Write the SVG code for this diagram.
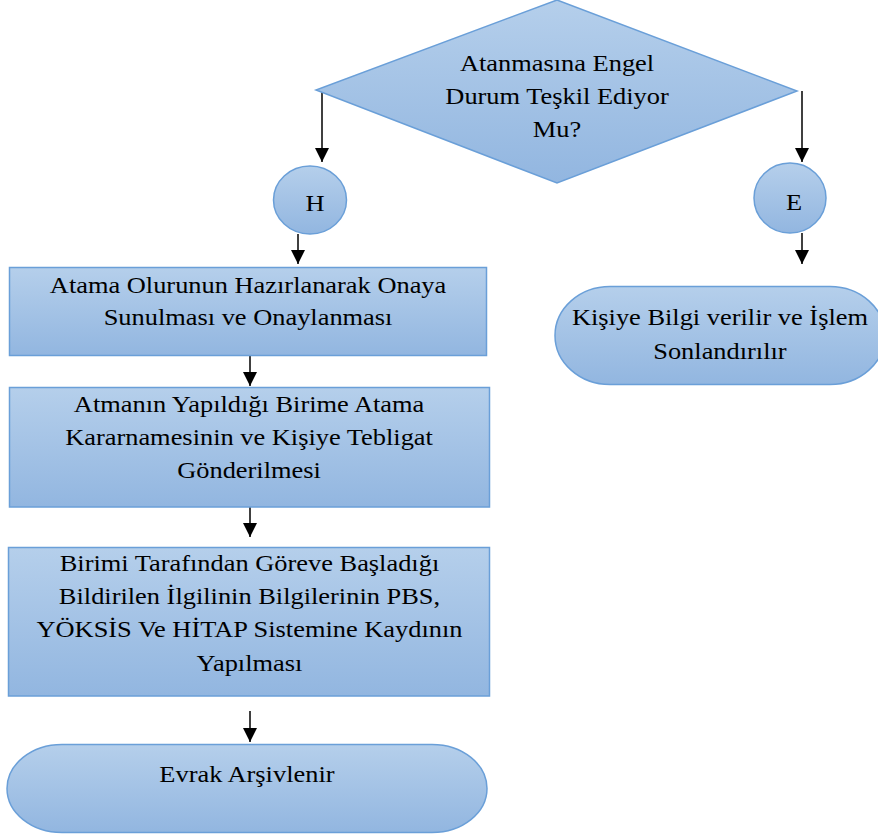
<svg xmlns="http://www.w3.org/2000/svg" width="878" height="838" viewBox="0 0 878 838">
<defs>
<linearGradient id="g" x1="0" y1="0" x2="0" y2="1">
<stop offset="0" stop-color="#b5cfeb"/>
<stop offset="1" stop-color="#92b6e0"/>
</linearGradient>
<marker id="ah" viewBox="0 0 14 14" refX="14" refY="7" markerWidth="14" markerHeight="14" markerUnits="userSpaceOnUse" orient="auto">
<path d="M0,0 L14,7 L0,14 z" fill="#000"/>
</marker>
<style>
.s{fill:url(#g);stroke:#6a9fd8;stroke-width:1.5}
.c{stroke:#000;stroke-width:1.5;fill:none;marker-end:url(#ah)}
text{font-family:"Liberation Serif","Times New Roman",serif;font-size:24px;fill:#000;text-anchor:middle}
</style>
</defs>
<rect width="878" height="838" fill="#fff"/>
<g id="connectors">
<line class="c" x1="322" y1="91" x2="322" y2="162"/>
<line class="c" x1="802" y1="91" x2="802" y2="162"/>
<line class="c" x1="298" y1="234" x2="298" y2="264"/>
<line class="c" x1="802" y1="233" x2="802" y2="264"/>
<line class="c" x1="250" y1="356" x2="250" y2="386"/>
<line class="c" x1="250" y1="507" x2="250" y2="537"/>
<line class="c" x1="250" y1="711" x2="250" y2="742"/>
</g>
<g id="decision">
<polygon class="s" points="557,0 797,91 557,183 316,90"/>
<g transform="scale(1.1 1)">
<text x="506.4" y="71">Atanmasına Engel</text>
<text x="506.4" y="104">Durum Teşkil Ediyor</text>
<text x="506.4" y="137">Mu?</text>
</g>
</g>
<g id="nodeH">
<ellipse class="s" cx="310" cy="200" rx="36.5" ry="34"/>
<g transform="scale(1.1 1)"><text x="286.4" y="211">H</text></g>
</g>
<g id="nodeE">
<ellipse class="s" cx="790" cy="198" rx="36" ry="35"/>
<g transform="scale(1.1 1)"><text x="721.8" y="210">E</text></g>
</g>
<g id="step1">
<rect class="s" x="9.5" y="267.5" width="477" height="88"/>
<g transform="scale(1.1 1)">
<text x="225.5" y="293">Atama Olurunun Hazırlanarak Onaya</text>
<text x="225.5" y="325">Sunulması ve Onaylanması</text>
</g>
</g>
<g id="step2">
<rect class="s" x="9.5" y="387.5" width="480" height="119.5"/>
<g transform="scale(1.1 1)">
<text x="226.4" y="412">Atmanın Yapıldığı Birime Atama</text>
<text x="226.4" y="445">Kararnamesinin ve Kişiye Tebligat</text>
<text x="226.4" y="478">Gönderilmesi</text>
</g>
</g>
<g id="step3">
<rect class="s" x="8.5" y="547.5" width="481" height="148.5"/>
<g transform="scale(1.1 1)">
<text x="226.8" y="571">Birimi Tarafından Göreve Başladığı</text>
<text x="226.8" y="604">Bildirilen İlgilinin Bilgilerinin PBS,</text>
<text x="226.8" y="637">YÖKSİS Ve HİTAP Sistemine Kaydının</text>
<text x="226.8" y="671">Yapılması</text>
</g>
</g>
<g id="end1">
<path class="s" d="M62,744.5 H432 A55,44 0 0 1 432,832.5 H62 A55,44 0 0 1 62,744.5 Z"/>
<g transform="scale(1.1 1)"><text x="224.5" y="782">Evrak Arşivlenir</text></g>
</g>
<g id="end2">
<path class="s" d="M610,286.5 H830 A55,49 0 0 1 830,384.5 H610 A55,49 0 0 1 610,286.5 Z"/>
<g transform="scale(1.1 1)">
<text x="654.5" y="325">Kişiye Bilgi verilir ve İşlem</text>
<text x="654.5" y="359">Sonlandırılır</text>
</g>
</g>
</svg>
